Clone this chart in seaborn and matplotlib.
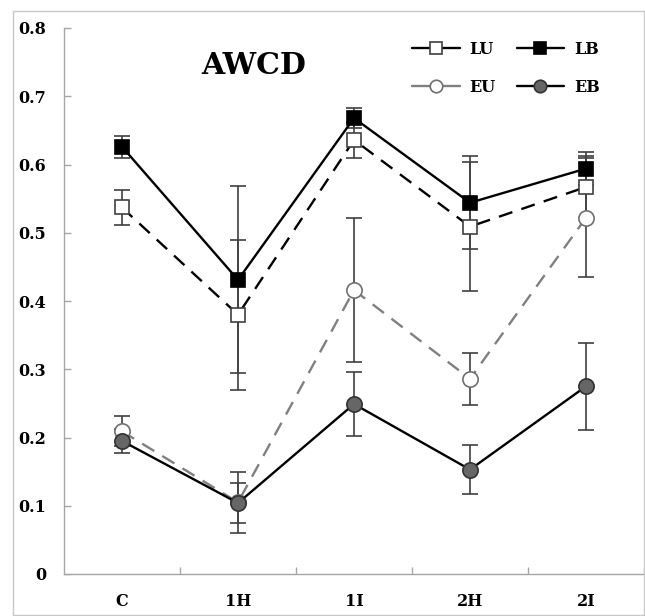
import matplotlib
matplotlib.use("Agg")
import matplotlib.pyplot as plt
from matplotlib.lines import Line2D
from matplotlib.patches import Rectangle
from matplotlib.ticker import FixedLocator, FuncFormatter
import seaborn as sns
import pandas as pd

categories = ["C", "1H", "1I", "2H", "2I"]
series_names = ["LU", "LB", "EU", "EB"]
lu = [0.537, 0.380, 0.636, 0.509, 0.567]
lu_err = [0.026, 0.110, 0.027, 0.094, 0.046]
lb = [0.626, 0.431, 0.668, 0.544, 0.594]
lb_err = [0.016, 0.137, 0.015, 0.068, 0.024]
eu = [0.209, 0.105, 0.416, 0.286, 0.522]
eu_err = [0.022, 0.045, 0.105, 0.038, 0.087]
eb = [0.195, 0.104, 0.249, 0.153, 0.275]
eb_err = [0.017, 0.029, 0.047, 0.036, 0.064]
yticks = [0, 0.1, 0.2, 0.3, 0.4, 0.5, 0.6, 0.7, 0.8]
title = "AWCD"

sns.set_theme(style="white")
plt.rcParams["font.family"] = ["DejaVu Serif"]
plt.rcParams["font.weight"] = "bold"
plt.rcParams["text.color"] = "black"

W, H = 645, 616
fig = plt.figure(figsize=(W / 100, H / 100), dpi=100)
ax = fig.add_axes([64 / W, 1 - 574 / H, 580 / W, 546 / H])

styles = {
    "LU": dict(values=lu, err=lu_err, color="black", ls=(0, (6, 4)), marker="s",
               mfc="white", mec="#404040", ms=10.5),
    "LB": dict(values=lb, err=lb_err, color="black", ls="-", marker="s",
               mfc="black", mec="black", ms=10.5),
    "EU": dict(values=eu, err=eu_err, color="#808080", ls=(0, (6, 4)), marker="o",
               mfc="white", mec="#707070", ms=11),
    "EB": dict(values=eb, err=eb_err, color="black", ls="-", marker="o",
               mfc="#666666", mec="#333333", ms=11),
}

# error bars first (behind markers)
for name in series_names:
    s = styles[name]
    ax.errorbar(categories, s["values"], yerr=s["err"], fmt="none",
                ecolor="#404040", elinewidth=1.2, capsize=6, capthick=1.2, zorder=2)

for name in series_names:
    s = styles[name]
    df = pd.DataFrame({"cat": categories, "val": s["values"]})
    sns.lineplot(data=df, x="cat", y="val", ax=ax, color=s["color"], sort=False,
                 linestyle=s["ls"], linewidth=1.7, marker=s["marker"],
                 markersize=s["ms"], markerfacecolor=s["mfc"],
                 markeredgecolor=s["mec"], markeredgewidth=1.2, zorder=3)

ax.set_xlim(-0.5, 4.5)
ax.set_ylim(0, 0.8)
ax.set_xlabel("")
ax.set_ylabel("")
ax.set_yticks(yticks)
ax.yaxis.set_major_formatter(FuncFormatter(lambda v, p: "0" if abs(v) < 1e-9 else f"{v:.1f}"))
ax.xaxis.set_minor_locator(FixedLocator([0.5, 1.5, 2.5, 3.5, 4.5]))

for side in ["top", "right"]:
    ax.spines[side].set_visible(False)
for side in ["left", "bottom"]:
    ax.spines[side].set_color("#a6a6a6")
    ax.spines[side].set_linewidth(1.0)

ax.tick_params(axis="x", which="major", length=0, pad=14, labelsize=11.5,
               labelcolor="black")
ax.tick_params(axis="x", which="minor", direction="in", length=5, width=1,
               color="#a6a6a6", bottom=True)
ax.tick_params(axis="y", which="major", direction="in", length=5, width=1,
               color="#a6a6a6", pad=13, labelsize=11.5, labelcolor="black", left=True)
for lab in ax.get_xticklabels() + ax.get_yticklabels():
    lab.set_fontweight("bold")

fig.text(254 / W, 1 - 66 / H, title, ha="center", va="center", color="black",
         fontsize=21.5, fontweight="bold", family="DejaVu Serif")

handles = [
    Line2D([], [], color="black", lw=1.7, marker="s", ms=9, mfc="white", mec="#404040", mew=1.2),
    Line2D([], [], color="#808080", lw=1.7, marker="o", ms=9, mfc="white", mec="#707070", mew=1.2),
    Line2D([], [], color="black", lw=1.7, marker="s", ms=9, mfc="black", mec="black", mew=1.2),
    Line2D([], [], color="black", lw=1.7, marker="o", ms=9, mfc="#666666", mec="#333333", mew=1.2),
]
labels = ["LU", "EU", "LB", "EB"]
leg = fig.legend(handles, labels, loc="upper left", bbox_to_anchor=(412 / W, 1 - 41 / H),
                 ncol=2, frameon=False, handlelength=3.0,
                 handletextpad=0.6, columnspacing=1.3, labelspacing=1.3,
                 borderpad=0, borderaxespad=0, labelcolor="black",
                 prop={"family": "DejaVu Serif", "weight": "bold", "size": 11.5})

fig.patches.append(Rectangle((12.5 / W, 1 / H), (644 - 12.5) / W, (604 / H),
                             transform=fig.transFigure, fill=False,
                             edgecolor="#c8c8c8", linewidth=1.0, zorder=0))

fig.savefig("out.png", dpi=100)
